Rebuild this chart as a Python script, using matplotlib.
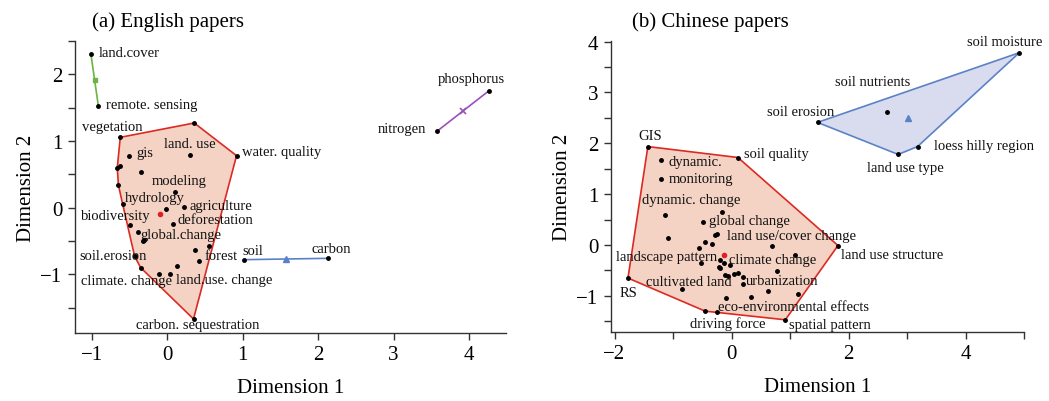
import matplotlib
matplotlib.use("Agg")
import matplotlib.pyplot as plt
from matplotlib.ticker import MultipleLocator, FuncFormatter
import numpy as np

plt.rcParams['font.family'] = ['Liberation Serif', 'DejaVu Serif']

# ---------------- (a) English papers ----------------
a_red_x = [-0.62, 0.36, 0.92, 0.35, -0.35, -0.43, -0.66, -0.645, -0.59, -0.62,
           -0.50, 0.31, -0.34, 0.10, -0.02, 0.22, 0.08, -0.49, -0.38, -0.32,
           -0.30, 0.56, 0.375, 0.42, 0.13, -0.11, 0.04]
a_red_y = [1.055, 1.27, 0.78, -1.67, -0.90, -0.73, 0.60, 0.34, 0.06, 0.63,
           0.78, 0.79, 0.53, 0.24, -0.015, 0.015, -0.25, -0.26, -0.36, -0.50,
           -0.49, -0.57, -0.64, -0.80, -0.87, -1.00, -1.00]
a_red_lab = ["vegetation", "", "water. quality", "carbon. sequestration", "climate. change",
             "soil.erosion", "", "", "", "",
             "gis", "land. use", "", "modeling", "hydrology", "agriculture", "deforestation",
             "biodiversity", "global.change", "", "", "", "", "forest", "", "", "land.use. change"]
a_red_center = (-0.09, -0.10)

a_green_x = [-1.01, -0.91]
a_green_y = [2.31, 1.52]
a_green_lab = ["land.cover", "remote. sensing"]

a_blue_x = [1.02, 2.13]
a_blue_y = [-0.78, -0.76]
a_blue_lab = ["soil", "carbon"]

a_purple_x = [3.58, 4.26]
a_purple_y = [1.15, 1.75]
a_purple_lab = ["nitrogen", "phosphorus"]

a_xticks = [-1, 0, 1, 2, 3, 4]
a_yticks = [-1, 0, 1, 2]

# ---------------- (b) Chinese papers ----------------
b_red_x = [-1.43, 0.11, 1.82, 0.92, -0.45, -0.25, -1.77,
           -1.20, -1.20, -1.13, -0.17, -0.49, -1.08, -0.29, -0.25, -0.45, -0.34,
           -0.55, 0.70, -0.20, -0.12, 1.09, -0.53, -0.22, -0.19, -0.03, -0.11,
           -0.065, 0.04, 0.105, 0.20, 0.19, 0.77, -0.85, 0.62, 0.33, -0.10, 1.13]
b_red_y = [1.935, 1.72, -0.01, -1.47, -1.30, -1.32, -0.65,
           1.67, 1.29, 0.59, 0.65, 0.46, 0.14, 0.20, 0.22, 0.05, 0.02,
           -0.05, -0.02, -0.29, -0.36, -0.20, -0.35, -0.44, -0.46, -0.39, -0.58,
           -0.60, -0.57, -0.555, -0.63, -0.76, -0.52, -0.86, -0.91, -1.03, -1.04, -0.96]
b_red_lab = ["GIS", "soil quality", "land use structure", "spatial pattern", "",
             "driving force", "RS",
             "dynamic.", "monitoring", "dynamic. change", "", "global change", "",
             "", "land use/cover change", "", "", "", "", "landscape pattern", "climate change",
             "", "", "", "", "", "", "", "", "", "", "urbanization", "", "cultivated land",
             "", "", "eco-environmental effects", ""]
b_red_center = (-0.13, -0.20)

b_blue_x = [1.47, 4.92, 3.18, 2.85, 2.65]
b_blue_y = [2.41, 3.78, 1.935, 1.78, 2.62]
b_blue_lab = ["soil erosion", "soil moisture", "loess hilly region", "land use type", "soil nutrients"]

b_xticks = [-2, 0, 2, 4]
b_yticks = [-1, 0, 1, 2, 3, 4]

# label placement (offset pixels, alignment)
label_pos = {
    "vegetation": (-8, 11, "center"), "water. quality": (5, 4, "left"),
    "carbon. sequestration": (4, -6, "center"), "climate. change": (-14, -13, "center"),
    "soil.erosion": (-22, 1, "center"), "gis": (7, 3, "left"), "land. use": (-1, 11, "center"),
    "modeling": (5, 11, "center"), "hydrology": (-11, 11, "center"), "agriculture": (6, 1, "left"),
    "deforestation": (4, 5, "left"), "biodiversity": (-14, 9, "center"),
    "global.change": (2, -3, "left"), "forest": (6, 5, "left"), "land.use. change": (6, -5, "left"),
    "land.cover": (8, 1, "left"), "remote. sensing": (8, 2, "left"),
    "soil": (-2, 9, "left"), "carbon": (3, 10, "center"),
    "nitrogen": (-11, 3, "right"), "phosphorus": (-17, 12, "center"),
    "GIS": (2, 11, "center"), "soil quality": (6, 4, "left"), "land use structure": (3, -9, "left"),
    "spatial pattern": (4, -5, "left"), "driving force": (11, -11, "center"), "RS": (1, -14, "center"),
    "dynamic.": (7, -1, "left"), "monitoring": (7, 1, "left"), "dynamic. change": (26, 15, "center"),
    "global change": (6, 1, "left"), "land use/cover change": (10, -2, "left"),
    "landscape pattern": (-3, 3, "right"), "climate change": (5, 4, "left"),
    "urbanization": (3, 3, "left"), "cultivated land": (7, 7, "center"),
    "eco-environmental effects": (-8, -9, "left"),
    "soil erosion": (-17, 11, "center"), "soil moisture": (-15, 11, "center"),
    "loess hilly region": (16, 1, "left"), "land use type": (7, -13, "center"),
    "soil nutrients": (-14, 30, "center"),
}

RED_E, RED_F = "#dc2a22", "#f5d3c4"
BLUE_E, BLUE_F = "#5b82c6", "#d9dcee"
GREEN = "#6cb443"
PURPLE = "#9b4fb9"


def hull(xs, ys):
    pts = sorted(set(zip(xs, ys)))

    def cross(o, a, b):
        return (a[0] - o[0]) * (b[1] - o[1]) - (a[1] - o[1]) * (b[0] - o[0])
    lower, upper = [], []
    for p in pts:
        while len(lower) >= 2 and cross(lower[-2], lower[-1], p) <= 0:
            lower.pop()
        lower.append(p)
    for p in reversed(pts):
        while len(upper) >= 2 and cross(upper[-2], upper[-1], p) <= 0:
            upper.pop()
        upper.append(p)
    h = lower[:-1] + upper[:-1]
    return [p[0] for p in h], [p[1] for p in h]


def labels(ax, xs, ys, labs):
    for x, y, t in zip(xs, ys, labs):
        if not t:
            continue
        dx, dy, ha = label_pos[t]
        ax.annotate(t, (x, y), xytext=(dx, dy), textcoords="offset pixels",
                    ha=ha, va="center", fontsize=10.5, color="#111111")


def style(ax):
    for s in ["top", "right"]:
        ax.spines[s].set_visible(False)
    for s in ["left", "bottom"]:
        ax.spines[s].set_color("#333333")
        ax.spines[s].set_linewidth(1.0)
    ax.tick_params(which="both", direction="out", length=5, width=1, color="#333333",
                   labelsize=15, pad=4)


fig = plt.figure(figsize=(10.49, 4.02), dpi=100)

# ---- panel a ----
ax = fig.add_axes([75 / 1049, 68 / 402, 431 / 1049, 292 / 402])
hx, hy = hull(a_red_x, a_red_y)
ax.fill(hx, hy, facecolor=RED_F, edgecolor=RED_E, linewidth=1.2, zorder=1)
ax.plot(a_red_x, a_red_y, "o", ms=2.5, color="black", zorder=3)
ax.plot(*a_red_center, "o", ms=3, color="#e02020", zorder=3)
ax.plot(a_green_x, a_green_y, "-", color=GREEN, lw=1.2, zorder=2)
ax.plot(a_green_x, a_green_y, "o", ms=2.5, color="black", zorder=3)
ax.plot(np.mean(a_green_x), np.mean(a_green_y), "s", ms=3.5, color=GREEN, zorder=3)
ax.plot(a_blue_x, a_blue_y, "-", color=BLUE_E, lw=1.2, zorder=2)
ax.plot(a_blue_x, a_blue_y, "o", ms=2.5, color="black", zorder=3)
ax.plot(np.mean(a_blue_x), np.mean(a_blue_y), "^", ms=4, color=BLUE_E, zorder=3)
ax.plot(a_purple_x, a_purple_y, "-", color=PURPLE, lw=1.2, zorder=2)
ax.plot(a_purple_x, a_purple_y, "o", ms=2.5, color="black", zorder=3)
ax.plot(np.mean(a_purple_x), np.mean(a_purple_y), "x", ms=5, mew=1.2, color=PURPLE, zorder=3)
labels(ax, a_red_x, a_red_y, a_red_lab)
labels(ax, a_green_x, a_green_y, a_green_lab)
labels(ax, a_blue_x, a_blue_y, a_blue_lab)
labels(ax, a_purple_x, a_purple_y, a_purple_lab)
ax.set_xlim(-1.22, 4.49)
ax.set_ylim(-1.88, 2.50)
ax.set_xticks(a_xticks)
ax.set_yticks(a_yticks)
ax.yaxis.set_minor_locator(MultipleLocator(0.5))
ax.xaxis.set_major_formatter(FuncFormatter(lambda v, p: f"{v:.0f}".replace("-", "\u2212")))
ax.yaxis.set_major_formatter(FuncFormatter(lambda v, p: f"{v:.0f}".replace("-", "\u2212")))
style(ax)
ax.set_xlabel("Dimension 1", fontsize=15, labelpad=10)
ax.set_ylabel("Dimension 2", fontsize=15, labelpad=3)

# ---- panel b ----
bx = fig.add_axes([611 / 1049, 69 / 402, 413 / 1049, 291 / 402])
hx, hy = hull(b_red_x, b_red_y)
bx.fill(hx, hy, facecolor=RED_F, edgecolor=RED_E, linewidth=1.2, zorder=1)
bx.plot(b_red_x, b_red_y, "o", ms=2.5, color="black", zorder=3)
bx.plot(*b_red_center, "o", ms=3, color="#e02020", zorder=3)
hx, hy = hull(b_blue_x, b_blue_y)
bx.fill(hx, hy, facecolor=BLUE_F, edgecolor=BLUE_E, linewidth=1.2, zorder=1)
bx.plot(b_blue_x, b_blue_y, "o", ms=2.5, color="black", zorder=3)
bx.plot(np.mean(b_blue_x), np.mean(b_blue_y), "^", ms=4, color=BLUE_E, zorder=3)
labels(bx, b_red_x, b_red_y, b_red_lab)
labels(bx, b_blue_x, b_blue_y, b_blue_lab)
bx.set_xlim(-2.06, 5.0)
bx.set_ylim(-1.71, 4.01)
bx.set_xticks(b_xticks)
bx.set_yticks(b_yticks)
bx.xaxis.set_minor_locator(MultipleLocator(1))
bx.yaxis.set_minor_locator(MultipleLocator(0.5))
bx.xaxis.set_major_formatter(FuncFormatter(lambda v, p: f"{v:.0f}".replace("-", "\u2212")))
bx.yaxis.set_major_formatter(FuncFormatter(lambda v, p: f"{v:.0f}".replace("-", "\u2212")))
style(bx)
bx.set_xlabel("Dimension 1", fontsize=15, labelpad=10)
bx.set_ylabel("Dimension 2", fontsize=15, labelpad=3)

fig.text(92 / 1049, 1 - 22 / 402, "(a) English papers", fontsize=15, ha="left", va="center")
fig.text(632 / 1049, 1 - 22 / 402, "(b) Chinese papers", fontsize=15, ha="left", va="center")

fig.savefig("out.png", dpi=100)
